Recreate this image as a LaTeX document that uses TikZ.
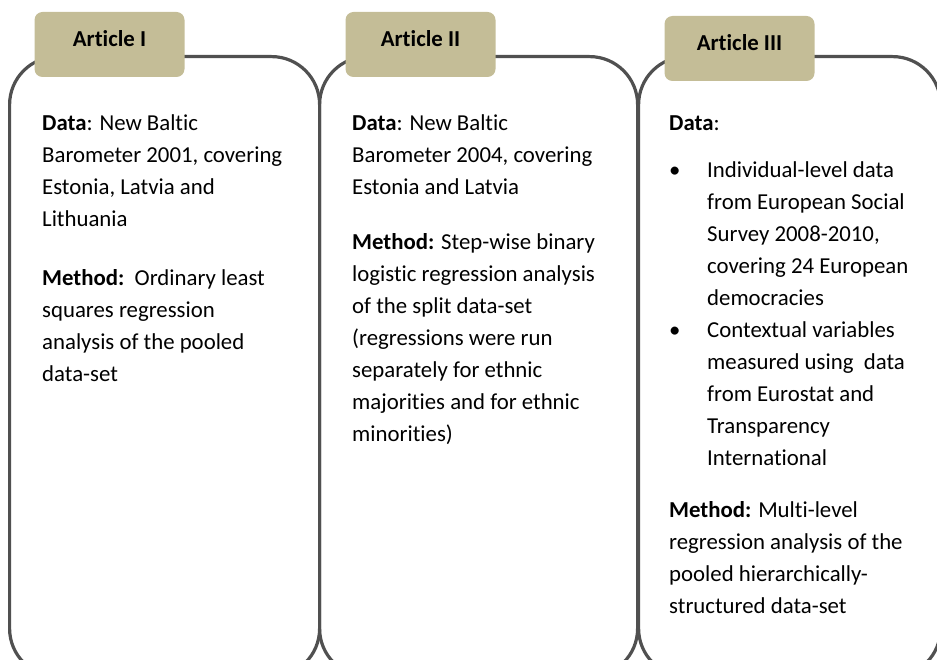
\documentclass[tikz,border=0pt]{standalone}
\usepackage{fontspec}
\setmainfont{Carlito}[Ligatures=NoCommon]
\definecolor{tabfill}{HTML}{C4BD97}
\definecolor{edge}{HTML}{505050}

\begin{document}
\begin{tikzpicture}[
    x=1pt,y=-1pt,
    font=\fontsize{22.8}{32}\selectfont,
    panel/.style={draw=edge,line width=3.2pt,rounded corners=48pt,
                  minimum height=620pt,inner sep=0pt,anchor=north west},
    tab/.style={fill=tabfill,rounded corners=8pt,minimum width=150pt,
                minimum height=65pt,font=\fontsize{22.8}{32}\selectfont\bfseries,
                text height=16pt,text depth=12pt},
    body/.style={align=left,inner sep=0pt,anchor=north west},
  ]
  \useasboundingbox (0,0) rectangle (937,660);

  \node[panel,minimum width=310pt] (box1) at (8,55) {};
  \node[panel,minimum width=318pt] (box2) at (318,55) {};
  \node[panel,minimum width=302pt] (box3) at (637,55) {};

  \node[tab] (tab1) at (109.5,44.5) {Article I};
  \node[tab] (tab2) at (420.5,44.5) {Article II};
  \node[tab] (tab3) at (739.5,48.5) {Article III};

  % first baselines at y=130, strut height 22.4
  \node[body] (txt1) at (42,107.6)
    {\strut\textbf{Data}: New Baltic\\Barometer 2001, covering\\Estonia, Latvia and\\Lithuania\\[27pt]
     \textbf{Method:}\ \ Ordinary least\\squares regression\\analysis of the pooled\\data-set};
  \node[body] (txt2) at (352,107.6)
    {\strut\textbf{Data}: New Baltic\\Barometer 2004, covering\\Estonia and Latvia\\[23pt]
     \textbf{Method:} Step-wise binary\\logistic regression analysis\\of the split data-set\\
     (regressions were run\\separately for ethnic\\majorities and for ethnic\\minorities)};
  \node[body] (txt3) at (669,107.6)
    {\strut\textbf{Data}:\\[15pt]
     \makebox[38pt][l]{\textbullet}Individual-level data\\
     \hspace*{38pt}from European Social\\
     \hspace*{38pt}Survey 2008-2010,\\
     \hspace*{38pt}covering 24 European\\
     \hspace*{38pt}democracies\\
     \makebox[38pt][l]{\textbullet}Contextual variables\\
     \hspace*{38pt}measured using\ \ data\\
     \hspace*{38pt}from Eurostat and\\
     \hspace*{38pt}Transparency\\
     \hspace*{38pt}International\\[20pt]
     \textbf{Method:} Multi-level\\regression analysis of the\\pooled hierarchically-\\
     structured data-set};
\end{tikzpicture}
\end{document}
